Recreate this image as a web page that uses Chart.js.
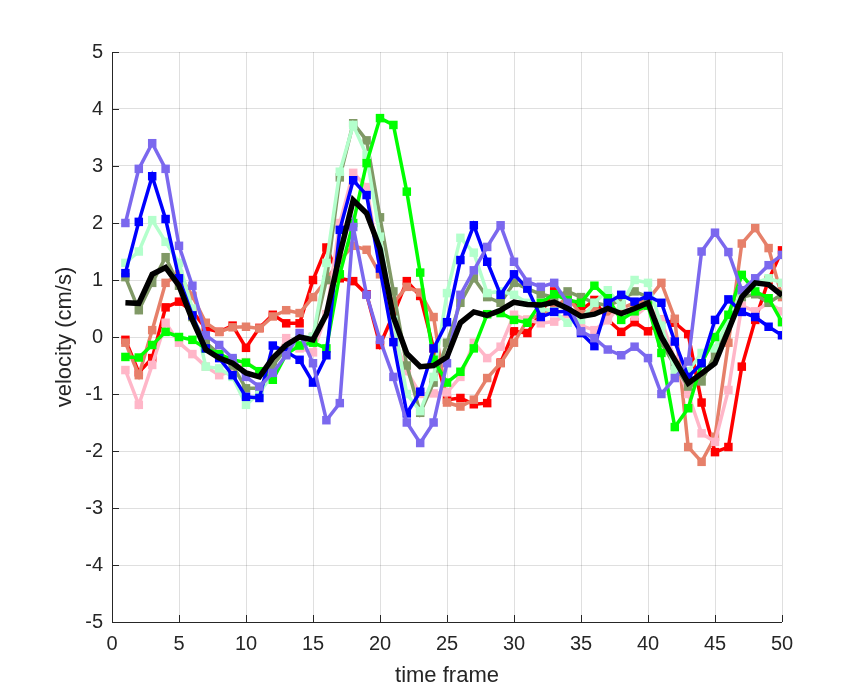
<!DOCTYPE html>
<html><head><meta charset="utf-8">
<script src="https://cdn.jsdelivr.net/npm/chart.js@4.4.0/dist/chart.umd.min.js"></script>
<style>html,body{margin:0;padding:0;background:#fff;}#wrap{width:864px;height:700px;}</style>
</head><body><div id="wrap"><canvas id="c" width="864" height="700"></canvas></div>
<script>
const frames = Array.from({length:50},(_,i)=>i+1);
const xTicks = [0,5,10,15,20,25,30,35,40,45,50];
const yTicks = [-5,-4,-3,-2,-1,0,1,2,3,4,5];
const red = [-0.05,-0.62,-0.37,0.52,0.62,0.45,0.15,0.09,0.2,-0.19,
 0.16,0.39,0.24,0.24,1.0,1.57,1.03,0.98,0.75,-0.14,
 0.4,0.98,0.72,-0.2,-1.1,-1.07,-1.18,-1.16,-0.45,0.1,
 0.07,0.42,0.8,0.7,0.47,0.65,0.3,0.09,0.26,0.1,
 0.3,0.25,0.05,-1.15,-2.02,-1.93,-0.52,0.3,1.0,1.52];
const salmon = [-0.1,-0.67,0.12,0.95,1.1,0.72,0.25,0.09,0.17,0.18,
 0.15,0.36,0.47,0.42,0.7,1.0,1.35,1.6,1.53,1.1,
 0.6,0.88,0.78,0.35,-1.15,-1.22,-1.1,-0.72,-0.46,-0.1,
 0.3,0.4,0.5,0.7,0.4,0.5,0.4,0.5,0.6,0.65,
 0.95,0.32,-1.93,-2.19,-1.75,-0.1,1.64,1.91,1.56,0.7];
const pink = [-0.58,-1.19,-0.49,0.25,-0.1,-0.3,-0.52,-0.67,-0.6,-0.44,
 -0.6,-0.5,-0.02,-0.2,-0.27,0.4,2.0,2.88,2.63,1.2,
 0.0,-0.6,-1.0,-0.99,-0.97,-0.7,-0.1,-0.37,-0.17,0.39,
 0.3,0.24,0.27,0.4,0.2,0.12,0.3,0.56,0.36,0.55,
 0.3,-0.4,-1.0,-1.69,-1.84,-0.93,0.55,0.45,0.6,0.45];
const paleGreen = [1.3,1.5,2.05,1.67,1.3,0.5,-0.52,-0.55,-0.7,-1.19,
 -0.98,-0.65,-0.3,0.0,0.0,1.3,2.9,3.72,3.19,1.76,
 0.3,-1.0,-1.3,-0.7,0.77,1.74,1.48,0.77,0.8,0.74,
 0.6,0.5,0.45,0.25,0.3,0.6,0.82,0.55,1.0,0.95,
 0.2,-0.58,-0.6,-0.28,-0.2,0.3,0.8,0.95,1.03,0.95];
const grayGreen = [1.05,0.47,0.95,1.4,0.9,0.35,-0.1,-0.3,-0.5,-0.9,
 -0.9,-0.5,-0.2,-0.1,0.0,1.0,2.8,3.75,3.45,2.1,
 0.8,-0.5,-1.33,-0.8,-0.1,0.6,1.03,0.7,0.6,0.95,
 0.85,0.75,0.7,0.8,0.7,0.6,0.55,0.65,0.8,0.7,
 -0.1,-0.5,-0.87,-0.78,-0.3,0.3,0.7,0.75,0.6,0.75];
const green = [-0.35,-0.36,-0.14,0.09,0.0,-0.05,-0.2,-0.3,-0.4,-0.45,
 -0.6,-0.75,-0.3,-0.15,-0.1,-0.2,1.1,2.0,3.05,3.84,
 3.72,2.55,1.13,-0.4,-0.8,-0.61,-0.2,0.4,0.42,0.3,
 0.25,0.6,0.75,0.65,0.6,0.9,0.68,0.3,0.45,0.55,
 -0.28,-1.58,-1.25,-0.46,0.0,0.39,1.09,0.8,0.68,0.26];
const blue = [1.12,2.02,2.82,2.07,1.03,0.38,-0.2,-0.37,-0.67,-1.05,
 -1.07,-0.15,-0.26,-0.4,-0.8,-0.32,1.88,2.75,2.49,1.2,
 -0.09,-1.34,-0.96,-0.2,0.26,1.35,1.96,1.32,0.74,1.1,
 0.85,0.35,0.44,0.45,0.07,-0.16,0.6,0.74,0.62,0.72,
 0.6,-0.08,-0.7,-0.46,0.3,0.66,0.44,0.35,0.18,0.03];
const purple = [2.0,2.95,3.4,2.95,1.6,0.9,0.03,-0.14,-0.37,-0.7,
 -0.87,-0.63,-0.32,0.07,-0.46,-1.46,-1.16,1.93,0.74,-0.05,
 -0.7,-1.5,-1.86,-1.5,-0.46,0.74,1.17,1.58,1.96,1.32,
 0.97,0.88,0.95,0.6,0.1,-0.02,-0.22,-0.32,-0.17,-0.37,
 -1.0,-0.72,-0.43,1.5,1.83,1.49,0.82,1.03,1.26,1.44];
const meanV = [0.6,0.59,1.1,1.22,0.9,0.3,-0.22,-0.37,-0.46,-0.63,
 -0.7,-0.37,-0.14,0.0,-0.05,0.4,1.45,2.4,2.17,1.55,
 0.35,-0.29,-0.52,-0.5,-0.35,0.25,0.44,0.38,0.47,0.61,
 0.57,0.56,0.61,0.5,0.36,0.4,0.5,0.41,0.5,0.6,
 0.0,-0.4,-0.81,-0.64,-0.46,0.12,0.7,0.95,0.92,0.73];

// listed bottom-most first
const series = [
 {data:red, color:'#FF0000'},
 {data:salmon, color:'#E6806A'},
 {data:pink, color:'#FFB6C8'},
 {data:grayGreen, color:'#809966'},
 {data:paleGreen, color:'#B3FFCC'},
 {data:green, color:'#00FF00'},
 {data:blue, color:'#0000FF'},
 {data:purple, color:'#7B68EE'}
];
const datasets = series.map((s,i)=>({
  data: frames.map((f,j)=>({x:f,y:s.data[j]})),
  borderColor:s.color, backgroundColor:s.color, borderWidth:3.5,
  pointRadius:6, pointHoverRadius:6, pointBorderWidth:0, pointStyle:'rect',
  tension:0, order: 20-i
}));
datasets.push({data: frames.map((f,j)=>({x:f,y:meanV[j]})), borderColor:'#000', borderWidth:5.5,
  pointRadius:0, tension:0, order:1});

const axisColor = '#262626';
const boxPlugin = {
  id:'box',
  afterDatasetsDraw(chart){
    const {ctx, chartArea:a, scales:{x,y}} = chart;
    ctx.save();
    ctx.strokeStyle = axisColor; ctx.lineWidth = 1;
    ctx.beginPath();
    ctx.moveTo(a.left+0.5, a.top); ctx.lineTo(a.left+0.5, a.bottom+0.5); ctx.lineTo(a.right, a.bottom+0.5);
    const tl = 7;
    xTicks.forEach(v=>{const p=Math.round(x.getPixelForValue(v))+0.5;
      ctx.moveTo(p,a.bottom); ctx.lineTo(p,a.bottom-tl);});
    yTicks.forEach(v=>{const p=Math.round(y.getPixelForValue(v))+0.5;
      ctx.moveTo(a.left,p); ctx.lineTo(a.left+tl,p);});
    ctx.stroke();
    ctx.restore();
  }
};

new Chart(document.getElementById('c'), {
  type:'line',
  data:{datasets},
  options:{
    responsive:false, animation:false, devicePixelRatio:1,
    layout:{padding:{left:0,right:82,top:52,bottom:0}},
    plugins:{legend:{display:false}, tooltip:{enabled:false}},
    scales:{
      x:{type:'linear', min:0, max:50,
        afterBuildTicks(s){ s.ticks = xTicks.map(v=>({value:v})); },
        afterFit(s){ s.height = 78; },
        ticks:{color:axisColor, font:{family:'Liberation Sans', size:20}, padding:10, maxRotation:0},
        grid:{color:'rgba(38,38,38,0.15)', drawTicks:false, lineWidth:1},
        border:{display:false},
        title:{display:true, text:'time frame', color:axisColor, font:{family:'Liberation Sans', size:22}, padding:{top:0,bottom:11}}
      },
      y:{type:'linear', min:-5, max:5,
        afterBuildTicks(s){ s.ticks = yTicks.map(v=>({value:v})); },
        afterFit(s){ s.width = 112; },
        ticks:{color:axisColor, font:{family:'Liberation Sans', size:20}, padding:9},
        grid:{color:'rgba(38,38,38,0.15)', drawTicks:false, lineWidth:1},
        border:{display:false},
        title:{display:true, text:'velocity (cm/s)', color:axisColor, font:{family:'Liberation Sans', size:22}, padding:{top:52,bottom:0}}
      }
    }
  },
  plugins:[boxPlugin]
});
</script></body></html>
